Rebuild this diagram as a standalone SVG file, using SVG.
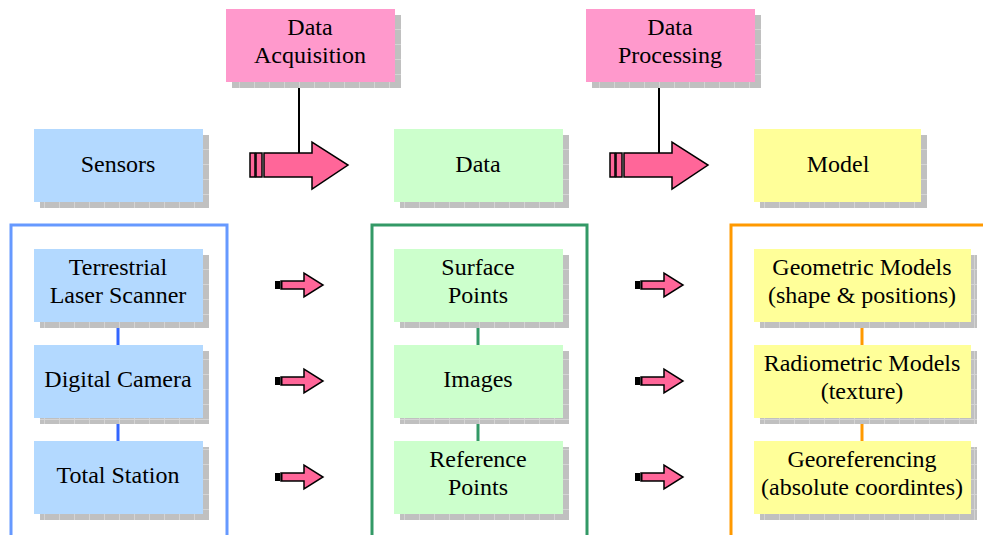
<svg xmlns="http://www.w3.org/2000/svg" width="983" height="535" viewBox="0 0 983 535">
<defs>
<pattern id="grid" width="15" height="15" patternUnits="userSpaceOnUse">
<rect width="15" height="15" fill="#c0c0c0"/>
<path d="M14.5 0V15M0 14.5H15" stroke="#d4d4d4" stroke-width="1"/>
</pattern>
<g id="bigArrow">
<rect x="0" y="11" width="5" height="24" fill="#ff6699" stroke="#000" stroke-width="1.5"/>
<rect x="6" y="11" width="6" height="24" fill="#ff6699" stroke="#000" stroke-width="1.5"/>
<path d="M14 11H62V0L98 23L62 47V35H14Z" fill="#ff6699" stroke="#000" stroke-width="1.5" stroke-linejoin="miter"/>
</g>
<g id="smallArrow">
<path d="M6 8H29V0L48 12L29 24V16H6Z" fill="#ff6699" stroke="#000" stroke-width="1.5"/>
<rect x="0" y="8" width="5" height="8" fill="#000"/>
<rect x="6" y="8" width="1.5" height="8" fill="#000"/>
</g>
</defs>
<style>
.shadow{fill:url(#grid)}
.t{font-family:'Liberation Serif',serif;font-size:24px;text-anchor:middle;fill:#000}
.blue{fill:#b3d9ff}
.green{fill:#ccffcc}
.yellow{fill:#ffff99}
.pink{fill:#ff99cc}
</style>
<rect width="983" height="535" fill="#fff"/>

<g id="containers" fill="none" stroke-width="3">
<rect x="11" y="225" width="216" height="320" stroke="#6699ff"/>
<rect x="372" y="225" width="215" height="320" stroke="#339966"/>
<rect x="731" y="225" width="270" height="320" stroke="#ff9900"/>
</g>

<g id="connectors">
<line x1="299" y1="82" x2="299" y2="155" stroke="#000" stroke-width="2"/>
<line x1="659" y1="82" x2="659" y2="155" stroke="#000" stroke-width="2"/>
<line x1="118" y1="322" x2="118" y2="441" stroke="#3366ff" stroke-width="3"/>
<line x1="478" y1="322" x2="478" y2="441" stroke="#339966" stroke-width="3"/>
<line x1="862" y1="322" x2="862" y2="441" stroke="#ff9900" stroke-width="3"/>
<use href="#bigArrow" x="250" y="142"/>
<use href="#bigArrow" x="610" y="142"/>
<use href="#smallArrow" x="275" y="273"/>
<use href="#smallArrow" x="275" y="369"/>
<use href="#smallArrow" x="275" y="465"/>
<use href="#smallArrow" x="635" y="273"/>
<use href="#smallArrow" x="635" y="369"/>
<use href="#smallArrow" x="635" y="465"/>
</g>

<g id="data-acquisition">
<rect class="shadow" x="232" y="15" width="169" height="73"/>
<rect class="pink" x="226" y="9" width="169" height="73"/>
<text class="t" x="310" y="35">Data</text>
<text class="t" x="310" y="63">Acquisition</text>
</g>
<g id="data-processing">
<rect class="shadow" x="592" y="15" width="169" height="73"/>
<rect class="pink" x="586" y="9" width="169" height="73"/>
<text class="t" x="670" y="35">Data</text>
<text class="t" x="670" y="63">Processing</text>
</g>

<g id="sensors">
<rect class="shadow" x="40" y="135" width="169" height="73"/>
<rect class="blue" x="34" y="129" width="169" height="73"/>
<text class="t" x="118" y="172">Sensors</text>
</g>
<g id="data">
<rect class="shadow" x="400" y="135" width="169" height="73"/>
<rect class="green" x="394" y="129" width="169" height="73"/>
<text class="t" x="478" y="172">Data</text>
</g>
<g id="model">
<rect class="shadow" x="760" y="135" width="167" height="73"/>
<rect class="yellow" x="754" y="129" width="167" height="73"/>
<text class="t" x="838" y="172">Model</text>
</g>

<g id="tls">
<rect class="shadow" x="40" y="255" width="169" height="73"/>
<rect class="blue" x="34" y="249" width="169" height="73"/>
<text class="t" x="118" y="275">Terrestrial</text>
<text class="t" x="118" y="303">Laser Scanner</text>
</g>
<g id="camera">
<rect class="shadow" x="40" y="351" width="169" height="73"/>
<rect class="blue" x="34" y="345" width="169" height="73"/>
<text class="t" x="118" y="387">Digital Camera</text>
</g>
<g id="total-station">
<rect class="shadow" x="40" y="447" width="169" height="73"/>
<rect class="blue" x="34" y="441" width="169" height="73"/>
<text class="t" x="118" y="483">Total Station</text>
</g>

<g id="surface-points">
<rect class="shadow" x="400" y="255" width="169" height="73"/>
<rect class="green" x="394" y="249" width="169" height="73"/>
<text class="t" x="478" y="275">Surface</text>
<text class="t" x="478" y="303">Points</text>
</g>
<g id="images">
<rect class="shadow" x="400" y="351" width="169" height="73"/>
<rect class="green" x="394" y="345" width="169" height="73"/>
<text class="t" x="478" y="387">Images</text>
</g>
<g id="reference-points">
<rect class="shadow" x="400" y="447" width="169" height="73"/>
<rect class="green" x="394" y="441" width="169" height="73"/>
<text class="t" x="478" y="467">Reference</text>
<text class="t" x="478" y="495">Points</text>
</g>

<g id="geometric">
<rect class="shadow" x="760" y="255" width="217" height="73"/>
<rect class="yellow" x="754" y="249" width="217" height="73"/>
<text class="t" x="862" y="275">Geometric Models</text>
<text class="t" x="862" y="303">(shape &amp; positions)</text>
</g>
<g id="radiometric">
<rect class="shadow" x="760" y="351" width="217" height="73"/>
<rect class="yellow" x="754" y="345" width="217" height="73"/>
<text class="t" x="862" y="371">Radiometric Models</text>
<text class="t" x="862" y="399">(texture)</text>
</g>
<g id="georeferencing">
<rect class="shadow" x="760" y="447" width="217" height="73"/>
<rect class="yellow" x="754" y="441" width="217" height="73"/>
<text class="t" x="862" y="467">Georeferencing</text>
<text class="t" x="862" y="495">(absolute coordintes)</text>
</g>
</svg>
